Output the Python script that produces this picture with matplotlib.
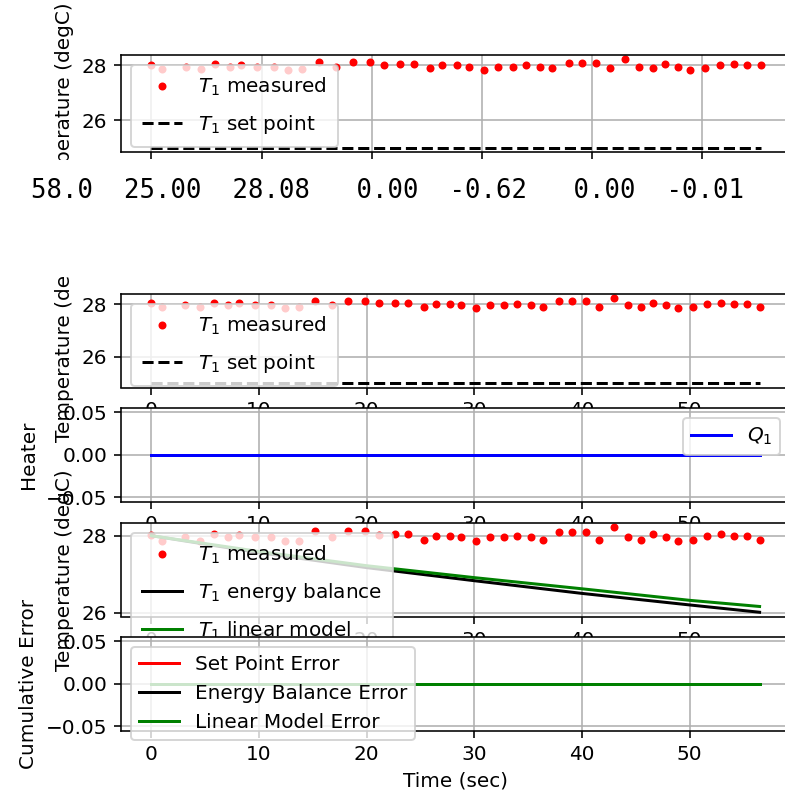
import numpy as np
import matplotlib.pyplot as plt
from matplotlib.patches import Rectangle

# time (sec) of each sample
tm = [0.0, 1.0, 3.1, 4.5, 5.8, 7.1, 8.1, 9.6, 11.1, 12.4, 13.7, 15.2, 16.8,
      18.3, 19.8, 21.1, 22.6, 23.8, 25.3, 26.4, 27.7, 28.8, 30.2, 31.5, 32.8,
      34.0, 35.3, 36.4, 37.9, 39.1, 40.4, 41.6, 43.0, 44.3, 45.5, 46.6, 47.8,
      48.9, 50.3, 51.6, 52.9, 54.1, 55.3, 56.5]

# measured T1 (degC)
T1_meas = [28.03, 27.87, 27.96, 27.87, 28.05, 27.96, 28.03, 27.96, 27.96,
           27.85, 27.87, 28.11, 27.96, 28.11, 28.11, 28.03, 28.05, 28.05,
           27.90, 28.00, 28.00, 27.96, 27.85, 27.96, 27.96, 28.00, 27.96,
           27.90, 28.10, 28.10, 28.10, 27.90, 28.22, 27.96, 27.90, 28.05,
           27.96, 27.85, 27.90, 28.00, 28.05, 28.00, 28.00, 27.90]

T1_sp = [25.0] * len(tm)

# model predictions
tm_model = [0.0, 10.0, 20.0, 30.0, 40.0, 50.0, 56.5]
T1_energy = [28.0, 27.56, 27.17, 26.83, 26.50, 26.20, 26.01]
T1_linear = [28.0, 27.59, 27.22, 26.91, 26.62, 26.32, 26.16]

Q1 = [0.0] * len(tm)
err_sp = [0.0] * len(tm)
err_eb = [0.0] * len(tm)
err_lm = [0.0] * len(tm)

# printed line between the two frames
printed = [58.0, 25.00, 28.08, 0.00, -0.62, 0.00, -0.01]

W, H, DPI = 785, 795, 144


def box(left, top, right, bottom):
  # pixel box -> figure fraction
  return [left / W, 1 - bottom / H, (right - left) / W, (bottom - top) / H]


def tempPanel(ax, t, T, sp):
  ax.plot(t, T, 'r.', label=r'$T_1$ measured')
  ax.plot(t, sp, 'k--', label=r'$T_1$ set point')
  ax.set_ylabel('Temperature (degC)')
  ax.legend(loc='upper left', labelspacing=0.75, borderpad=0.55)
  ax.grid()


def main():
  fig = plt.figure(figsize=(W / DPI, H / DPI), dpi=DPI)

  # previous frame, only its first panel is still visible
  ax0 = fig.add_axes(box(121, 55, 791, 152))
  n = len(tm) - 1
  tempPanel(ax0, tm[:n], T1_meas[:n], T1_sp[:n])
  ax0.tick_params(labelbottom=False)

  # current frame
  tops = [294, 408, 523, 637]
  axs = [fig.add_axes(box(121, t, 790, t + 93.5)) for t in tops]

  tempPanel(axs[0], tm, T1_meas, T1_sp)

  axs[1].plot(tm, Q1, 'b-', label=r'$Q_1$')
  axs[1].set_ylabel('Heater')
  axs[1].legend(loc='upper right')
  axs[1].grid()

  axs[2].plot(tm, T1_meas, 'r.', label=r'$T_1$ measured')
  axs[2].plot(tm_model, T1_energy, 'k-', label=r'$T_1$ energy balance')
  axs[2].plot(tm_model, T1_linear, 'g-', label=r'$T_1$ linear model')
  axs[2].set_ylabel('Temperature (degC)')
  axs[2].legend(loc='upper left', labelspacing=0.75, borderpad=0.55)
  axs[2].grid()

  axs[3].plot(tm, err_sp, 'r-', label='Set Point Error')
  axs[3].plot(tm, err_eb, 'k-', label='Energy Balance Error')
  axs[3].plot(tm, err_lm, 'g-', label='Linear Model Error')
  axs[3].set_ylabel('Cumulative Error')
  axs[3].set_xlabel('Time (sec)')
  axs[3].legend(loc='upper left')
  axs[3].grid()

  # blank output area holding the printed numbers
  fig.add_artist(Rectangle((0, 1 - 277 / H), 1, 117 / H, transform=fig.transFigure,
                           facecolor='white', edgecolor='none', zorder=10))
  line = '{:4.1f}  {:5.2f}  {:5.2f}  {:5.2f}  {:5.2f}  {:5.2f}  {:5.2f}'.format(*printed)
  fig.text(31 / W, 1 - 198 / H, line, family='DejaVu Sans Mono', fontsize=12.85,
           va='baseline', ha='left', zorder=11)

  fig.savefig('out.png', dpi=DPI)


if __name__ == "__main__":
  main()
